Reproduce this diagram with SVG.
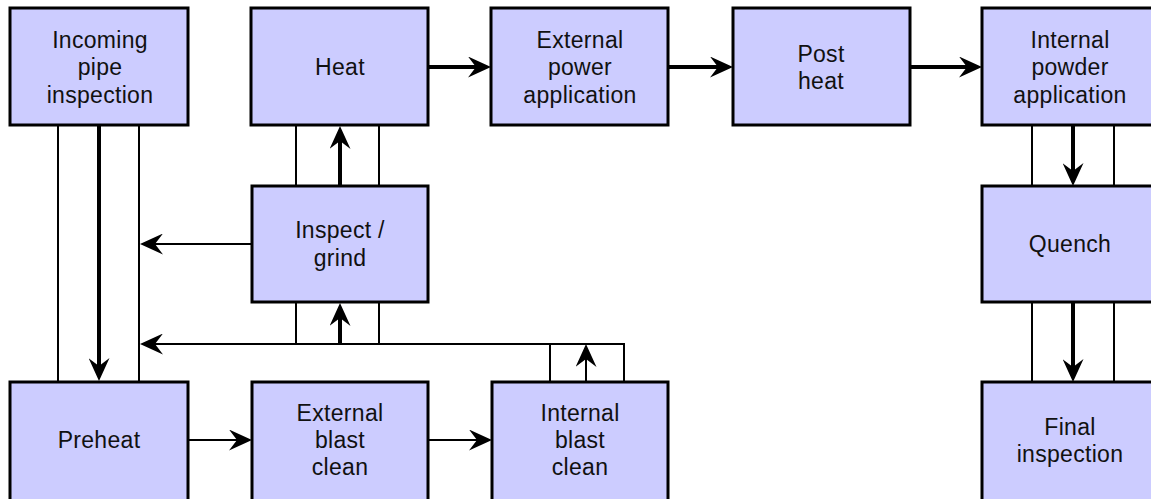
<svg xmlns="http://www.w3.org/2000/svg" width="1151" height="499" viewBox="0 0 1151 499">
<defs>
<style>
.box{fill:#ccccff;stroke:#000;stroke-width:3}
.t{font-family:"Liberation Sans",Arial,sans-serif;font-size:23px;letter-spacing:0.3px;fill:#111;text-anchor:middle}
.thin{fill:none;stroke:#000;stroke-width:2}
.thick{fill:none;stroke:#000;stroke-width:4}
.arr{marker-end:url(#ah)}
</style>
<marker id="ah" viewBox="0 0 23 21" refX="13" refY="10.5" markerWidth="23" markerHeight="21" markerUnits="userSpaceOnUse" orient="auto">
<path d="M0,0 L23,10.5 L0,21 L8,10.5 Z" fill="#000"/>
</marker>
</defs>
<rect width="1151" height="499" fill="#fff"/>
<g id="connectors">
<path class="thin" d="M58,125V382M139,125V382M296,125V186M379,125V186M296,302V344M379,302V344M1032,125V186M1114,125V186M1032,302V382M1114,302V382M550,344V382"/>
<path class="thick arr" d="M99,125V371"/>
<path class="thick arr" d="M428,67H481"/>
<path class="thick arr" d="M668,67H723"/>
<path class="thick arr" d="M910,67H972"/>
<path class="thick arr" d="M340,186V136"/>
<path class="thick arr" d="M340,344V313"/>
<path class="thick arr" d="M1073,125V176"/>
<path class="thick arr" d="M1073,302V372"/>
<path class="thin arr" d="M252,244H150"/>
<path class="thin arr" d="M624,382V344H150"/>
<path class="thin arr" d="M586,382V354"/>
<path class="thin arr" d="M188,440H242"/>
<path class="thin arr" d="M428,440H482"/>
</g>
<g id="incoming"><rect class="box" x="10" y="8" width="178" height="117"/><text class="t"><tspan x="100" y="48">Incoming</tspan><tspan x="100" y="75.3">pipe</tspan><tspan x="100" y="102.6">inspection</tspan></text></g>
<g id="heat"><rect class="box" x="251" y="8" width="177" height="117"/><text class="t" x="340" y="75.3">Heat</text></g>
<g id="extpower"><rect class="box" x="491" y="8" width="177" height="117"/><text class="t"><tspan x="580" y="48">External</tspan><tspan x="580" y="75.3">power</tspan><tspan x="580" y="102.6">application</tspan></text></g>
<g id="postheat"><rect class="box" x="733" y="8" width="177" height="117"/><text class="t"><tspan x="821" y="61.6">Post</tspan><tspan x="821" y="88.9">heat</tspan></text></g>
<g id="intpowder"><rect class="box" x="982" y="8" width="180" height="117"/><text class="t"><tspan x="1070" y="48">Internal</tspan><tspan x="1070" y="75.3">powder</tspan><tspan x="1070" y="102.6">application</tspan></text></g>
<g id="inspect"><rect class="box" x="252" y="186" width="176" height="116"/><text class="t"><tspan x="340" y="238.3">Inspect /</tspan><tspan x="340" y="266.3">grind</tspan></text></g>
<g id="quench"><rect class="box" x="982" y="186" width="180" height="116"/><text class="t" x="1070" y="252">Quench</text></g>
<g id="preheat"><rect class="box" x="10" y="382" width="178" height="122"/><text class="t" x="99" y="448">Preheat</text></g>
<g id="extblast"><rect class="box" x="252" y="382" width="176" height="122"/><text class="t"><tspan x="340" y="420.5">External</tspan><tspan x="340" y="447.8">blast</tspan><tspan x="340" y="475.1">clean</tspan></text></g>
<g id="intblast"><rect class="box" x="492" y="382" width="176" height="122"/><text class="t"><tspan x="580" y="420.5">Internal</tspan><tspan x="580" y="447.8">blast</tspan><tspan x="580" y="475.1">clean</tspan></text></g>
<g id="final"><rect class="box" x="982" y="382" width="180" height="122"/><text class="t"><tspan x="1070" y="434.5">Final</tspan><tspan x="1070" y="461.8">inspection</tspan></text></g>
</svg>
